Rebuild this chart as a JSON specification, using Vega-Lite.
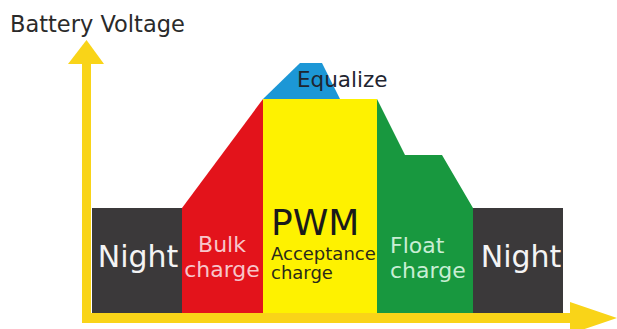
{
  "$schema": "https://vega.github.io/schema/vega-lite/v6.json",
  "width": 617,
  "height": 329,
  "padding": 0,
  "autosize": {"type": "none"},
  "background": "white",
  "config": {"view": {"stroke": null}, "font": "DejaVu Sans"},
  "datasets": {
    "blocks": [
      {"part": "axis", "x": 82, "x2": 91, "y": 64, "y2": 323},
      {"part": "axis", "x": 82, "x2": 572, "y": 313, "y2": 323},
      {"part": "night", "x": 92, "x2": 182, "y": 208, "y2": 313},
      {"part": "pwm", "x": 263, "x2": 377, "y": 99, "y2": 313},
      {"part": "night", "x": 473, "x2": 563, "y": 208, "y2": 313}
    ],
    "shapes": [
      {"shape": "bulk", "part": "bulk", "x": 182, "y": 208, "y2": 313},
      {"shape": "bulk", "part": "bulk", "x": 263, "y": 99, "y2": 313},
      {"shape": "equalize", "part": "equalize", "x": 263, "y": 99, "y2": 99},
      {"shape": "equalize", "part": "equalize", "x": 300, "y": 63, "y2": 99},
      {"shape": "equalize", "part": "equalize", "x": 322, "y": 63, "y2": 99},
      {"shape": "equalize", "part": "equalize", "x": 340, "y": 99, "y2": 99},
      {"shape": "float", "part": "float", "x": 377, "y": 99, "y2": 313},
      {"shape": "float", "part": "float", "x": 405, "y": 155, "y2": 313},
      {"shape": "float", "part": "float", "x": 442, "y": 155, "y2": 313},
      {"shape": "float", "part": "float", "x": 473, "y": 208, "y2": 313},
      {"shape": "arrowUp", "part": "axis", "x": 68, "y": 64, "y2": 64},
      {"shape": "arrowUp", "part": "axis", "x": 86.5, "y": 40, "y2": 64},
      {"shape": "arrowUp", "part": "axis", "x": 104, "y": 64, "y2": 64}
    ],
    "arrowRight": [
      {"part": "axis", "y": 302, "x": 570, "x2": 570},
      {"part": "axis", "y": 318, "x": 570, "x2": 617},
      {"part": "axis", "y": 334, "x": 570, "x2": 570}
    ]
  },
  "layer": [
    {
      "data": {"name": "blocks"},
      "mark": {"type": "rect"},
      "encoding": {
        "x": {"field": "x", "type": "quantitative", "scale": {"domain": [0, 617], "nice": false, "zero": false}, "axis": null},
        "x2": {"field": "x2"},
        "y": {"field": "y", "type": "quantitative", "scale": {"domain": [0, 329], "reverse": true, "nice": false, "zero": false}, "axis": null},
        "y2": {"field": "y2"},
        "color": {
          "field": "part", "type": "nominal", "legend": null,
          "scale": {
            "domain": ["axis", "night", "bulk", "pwm", "equalize", "float"],
            "range": ["#f9d418", "#3b393a", "#e3131b", "#fef200", "#1c97d6", "#18983f"]
          }
        }
      }
    },
    {
      "data": {"name": "shapes"},
      "mark": {"type": "area", "orient": "vertical", "clip": true},
      "encoding": {
        "x": {"field": "x", "type": "quantitative"},
        "y": {"field": "y", "type": "quantitative", "stack": null},
        "y2": {"field": "y2"},
        "detail": {"field": "shape"},
        "color": {"field": "part", "type": "nominal", "legend": null}
      }
    },
    {
      "data": {"name": "arrowRight"},
      "mark": {"type": "area", "orient": "horizontal", "clip": true},
      "encoding": {
        "y": {"field": "y", "type": "quantitative"},
        "x": {"field": "x", "type": "quantitative", "stack": null},
        "x2": {"field": "x2"},
        "color": {"field": "part", "type": "nominal", "legend": null}
      }
    },
    {
      "data": {"values": [{"label": "Battery Voltage", "x": 10, "y": 32}]},
      "mark": {"type": "text", "align": "left", "baseline": "alphabetic", "fontSize": 22.5, "color": "#2a2a2a"},
      "encoding": {
        "x": {"field": "x", "type": "quantitative"},
        "y": {"field": "y", "type": "quantitative"},
        "text": {"field": "label"}
      }
    },
    {
      "data": {"values": [{"label": "Equalize", "x": 297, "y": 87}]},
      "mark": {"type": "text", "align": "left", "baseline": "alphabetic", "fontSize": 21.5, "color": "#1f2530"},
      "encoding": {
        "x": {"field": "x", "type": "quantitative"},
        "y": {"field": "y", "type": "quantitative"},
        "text": {"field": "label"}
      }
    },
    {
      "data": {"values": [{"label": "Night", "x": 138, "y": 267}, {"label": "Night", "x": 521, "y": 267}]},
      "mark": {"type": "text", "align": "center", "baseline": "alphabetic", "fontSize": 30, "color": "#f4f4f4"},
      "encoding": {
        "x": {"field": "x", "type": "quantitative"},
        "y": {"field": "y", "type": "quantitative"},
        "text": {"field": "label"}
      }
    },
    {
      "data": {"values": [{"label": "Bulk", "x": 222, "y": 252}, {"label": "charge", "x": 222, "y": 277}]},
      "mark": {"type": "text", "align": "center", "baseline": "alphabetic", "fontSize": 22, "color": "#f7c6ca"},
      "encoding": {
        "x": {"field": "x", "type": "quantitative"},
        "y": {"field": "y", "type": "quantitative"},
        "text": {"field": "label"}
      }
    },
    {
      "data": {"values": [{"label": "PWM", "x": 271, "y": 235}]},
      "mark": {"type": "text", "align": "left", "baseline": "alphabetic", "fontSize": 36, "color": "#1a1a1a"},
      "encoding": {
        "x": {"field": "x", "type": "quantitative"},
        "y": {"field": "y", "type": "quantitative"},
        "text": {"field": "label"}
      }
    },
    {
      "data": {"values": [{"label": "Acceptance", "x": 271, "y": 260}, {"label": "charge", "x": 271, "y": 279}]},
      "mark": {"type": "text", "align": "left", "baseline": "alphabetic", "fontSize": 18, "color": "#2a2a1a"},
      "encoding": {
        "x": {"field": "x", "type": "quantitative"},
        "y": {"field": "y", "type": "quantitative"},
        "text": {"field": "label"}
      }
    },
    {
      "data": {"values": [{"label": "Float", "x": 390, "y": 253}, {"label": "charge", "x": 390, "y": 278}]},
      "mark": {"type": "text", "align": "left", "baseline": "alphabetic", "fontSize": 22, "color": "#c8eed4"},
      "encoding": {
        "x": {"field": "x", "type": "quantitative"},
        "y": {"field": "y", "type": "quantitative"},
        "text": {"field": "label"}
      }
    }
  ]
}
